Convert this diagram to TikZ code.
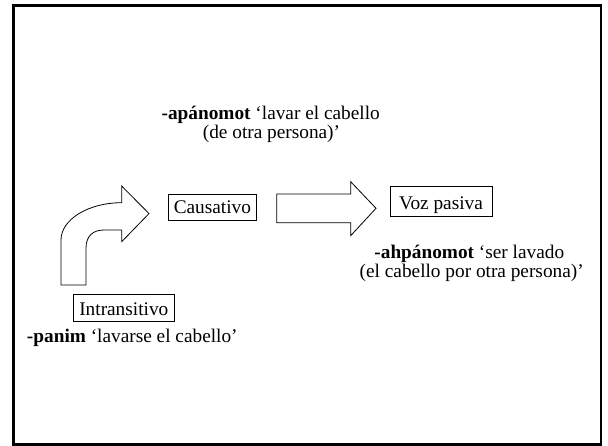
\documentclass[tikz,border=0pt]{standalone}
\usepackage{fontspec}
\setmainfont{Liberation Serif}
\begin{document}
\begin{tikzpicture}[x=1pt,y=-1pt,
  every node/.style={font=\fontsize{19.3}{20}\selectfont},
  catbox/.style={draw=black,line width=0.8pt,inner sep=0pt,text depth=0pt,minimum height=26pt},
  gloss/.style={inner sep=0pt,anchor=base},
  blockarrow/.style={draw=black,line width=0.8pt,fill=white,line join=miter}]
\useasboundingbox (0,0) rectangle (608,446);
\fill[white] (0,0) rectangle (608,446);
% frame
\draw[line width=2.6pt] (13.5,5.8) rectangle (600.8,444.6);

% boxes
\node[catbox,minimum width=101pt,minimum height=26.6pt,text height=15.2pt] (intr) at (123.8,308) {Intransitivo};
\node[catbox,minimum width=88pt,text height=13.8pt] (caus) at (212.4,207) {Causativo};
\node[catbox,minimum width=102pt,minimum height=30pt,text height=16.5pt] (pas) at (441,201.7) {Voz pasiva};

% glosses
\node[gloss] (g1) at (132.3,343) {\textbf{-panim} ‘lavarse el cabello’};
\node[gloss] (g2a) at (270.7,119.3) {\textbf{-apánomot} ‘lavar el cabello};
\node[gloss] (g2b) at (271.5,139) {(de otra persona)’};
\node[gloss] (g3a) at (469.3,258.3) {\textbf{-ahpánomot} ‘ser lavado};
\node[gloss] (g3b) at (471.7,278) {(el cabello por otra persona)’};

% bent arrow (Intransitivo -> Causativo)
\draw[blockarrow] (61,285) -- (61,240)
  .. controls (61,219.5) and (88.3,202.7) .. (121.7,202.7)
  -- (121.7,186) -- (149,213.6) -- (121.7,241.7) -- (121.7,230)
  -- (104,230) .. controls (93,230) and (86,236) .. (86,248)
  -- (86,285) -- cycle;

% straight block arrow (Causativo -> Voz pasiva)
\draw[blockarrow] (276.7,194) -- (350.7,194) -- (350.7,181.7) -- (376,208.3)
  -- (350.7,235.7) -- (350.7,222.7) -- (276.7,222.7) -- cycle;
\end{tikzpicture}
\end{document}
